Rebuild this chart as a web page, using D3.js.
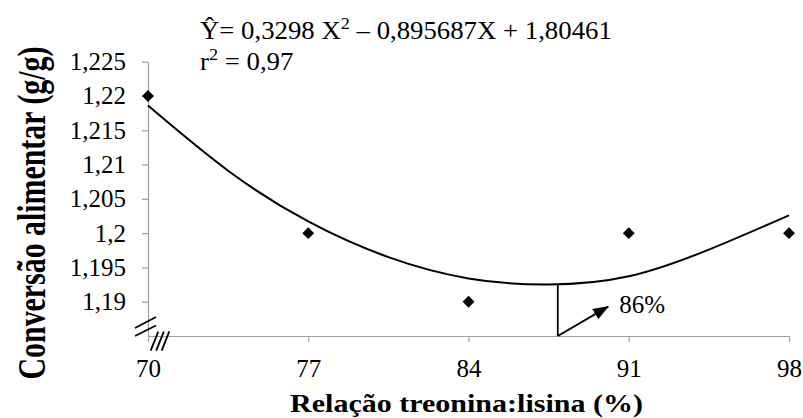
<!DOCTYPE html>
<meta charset='utf-8'>
<title>Conversão alimentar</title>
<style>
body {
  margin: 0;
  background-color: #fff;
}
</style>
<svg width="803" height="418" font-family="Liberation Serif, DejaVu Serif, serif">
  <defs>
    <marker id="head" markerUnits="userSpaceOnUse" markerWidth="16" markerHeight="14"
            viewBox="0 -7 16 14" refX="15" refY="0" orient="auto">
      <path d="M0,-6L16,0L0,6Z" fill="#000"></path>
    </marker>
  </defs>
</svg>
<script src="https://d3js.org/d3.v7.min.js"></script>
<script>

var serif = "'Liberation Serif', 'DejaVu Serif', serif";

// observed means
var ratios = [70, 77, 84, 91, 98];
var conversion = [1.22, 1.20, 1.19, 1.20, 1.20];

// fitted curve
var trendX = [70, 73.5, 77, 80.5, 84, 87.5, 91, 94.5, 98];
var trendY = [1.2186, 1.2091, 1.2017, 1.1965, 1.1934, 1.1925, 1.1937, 1.1976, 1.2026];

var yTicks = [1.19, 1.195, 1.2, 1.205, 1.21, 1.215, 1.22, 1.225];

// optimum marker + arrow
var optimumX = 87.9;
var optimumY = 1.1925;
var arrowTip = [90.1, 1.1893];
var optimumLabel = "86%";

var svg = d3.select("svg");

var x = d3.scaleLinear()
    .domain([70, 98])
    .range([148, 789]);

var y = d3.scaleLinear()
    .domain([1.185, 1.225])
    .range([336, 61.7]);

var comma = function(d) { return String(d).replace(".", ","); };

// y axis
var gy = svg.append("g")
    .attr("transform", "translate(" + x(70) + ",0)")
    .call(d3.axisLeft(y).tickValues(yTicks).tickSize(6).tickSizeOuter(0).tickPadding(16).tickFormat(comma));

// x axis
var gx = svg.append("g")
    .attr("transform", "translate(0," + y(1.185) + ")")
    .call(d3.axisBottom(x).tickValues(ratios).tickSize(6).tickSizeOuter(0).tickPadding(17));

[gx, gy].forEach(function(g) {
  g.attr("font-family", serif).attr("font-size", 25);
  g.selectAll("line, path").attr("stroke", "#a0a0a0").attr("stroke-width", 1.2);
  g.selectAll("text").attr("fill", "#000").style("font-family", serif);
});

// axis break marks
var ox = x(70), oy = y(1.185);
var breaks = [
  [[-13, -8], [8, -19]],
  [[-13, 0], [8, -10.5]],
  [[2.7, 14.7], [10.3, -4.3]],
  [[8.2, 14.7], [15.8, -4.3]],
  [[13.7, 14.7], [21.3, -4.6]]
];
svg.append("g")
    .selectAll("line")
    .data(breaks)
  .enter().append("line")
    .attr("x1", function(d) { return ox + d[0][0]; })
    .attr("y1", function(d) { return oy + d[0][1]; })
    .attr("x2", function(d) { return ox + d[1][0]; })
    .attr("y2", function(d) { return oy + d[1][1]; })
    .attr("stroke", "#000")
    .attr("stroke-width", 1.8);

// trend curve
var line = d3.line()
    .x(function(d, i) { return x(trendX[i]); })
    .y(function(d) { return y(d); })
    .curve(d3.curveNatural);

svg.append("path")
    .attr("d", line(trendY))
    .attr("fill", "none")
    .attr("stroke", "#000")
    .attr("stroke-width", 2);

// points
svg.selectAll("path.point")
    .data(conversion)
  .enter().append("path")
    .attr("class", "point")
    .attr("d", d3.symbol().type(d3.symbolSquare).size(70))
    .attr("transform", function(d, i) { return "translate(" + x(ratios[i]) + "," + y(d) + ") rotate(45)"; })
    .attr("fill", "#000");

// optimum line and arrow
svg.append("line")
    .attr("x1", x(optimumX)).attr("y1", y(optimumY))
    .attr("x2", x(optimumX)).attr("y2", y(1.185))
    .attr("stroke", "#000")
    .attr("stroke-width", 1.8);

svg.append("line")
    .attr("x1", x(optimumX)).attr("y1", y(1.185))
    .attr("x2", x(arrowTip[0])).attr("y2", y(arrowTip[1]))
    .attr("stroke", "#000")
    .attr("stroke-width", 2)
    .attr("marker-end", "url(#head)");

svg.append("text")
    .style("font-family", serif)
    .attr("x", x(arrowTip[0]) + 11)
    .attr("y", y(arrowTip[1]) + 6)
    .attr("font-size", 25)
    .text(optimumLabel);

// equation
var eq = svg.append("text")
    .style("font-family", serif)
    .attr("font-size", 25);
eq.append("tspan").text("Ŷ= 0,3298 X");
eq.append("tspan").attr("font-size", 17).attr("dy", -10).text("2");
eq.append("tspan").attr("dy", 10).text(" – 0,895687X + 1,80461");
var es = 412 / eq.node().getComputedTextLength();
eq.attr("transform", "translate(200,39) scale(" + es + ",1)");

var r2 = svg.append("text")
    .style("font-family", serif)
    .attr("font-size", 25);
r2.append("tspan").text("r");
r2.append("tspan").attr("font-size", 17).attr("dy", -10).text("2");
r2.append("tspan").attr("dy", 10).text(" = 0,97");
r2.attr("transform", "translate(200,70) scale(" + es + ",1)");

// axis titles
var xt = svg.append("text")
    .style("font-family", serif)
    .attr("text-anchor", "middle")
    .attr("font-weight", "bold")
    .attr("font-size", 25)
    .text("Relação treonina:lisina  (%)");
var xs = 353 / xt.node().getComputedTextLength();
xt.attr("transform", "translate(466.5,411.5) scale(" + xs + ",1)");

var yt = svg.append("text")
    .style("font-family", serif)
    .attr("text-anchor", "middle")
    .attr("font-weight", "bold")
    .attr("font-size", 40)
    .text("Conversão alimentar (g/g)");
var ys = 333 / yt.node().getComputedTextLength();
yt.attr("transform", "translate(45,213) rotate(-90) scale(" + ys + ",1)");

</script>
